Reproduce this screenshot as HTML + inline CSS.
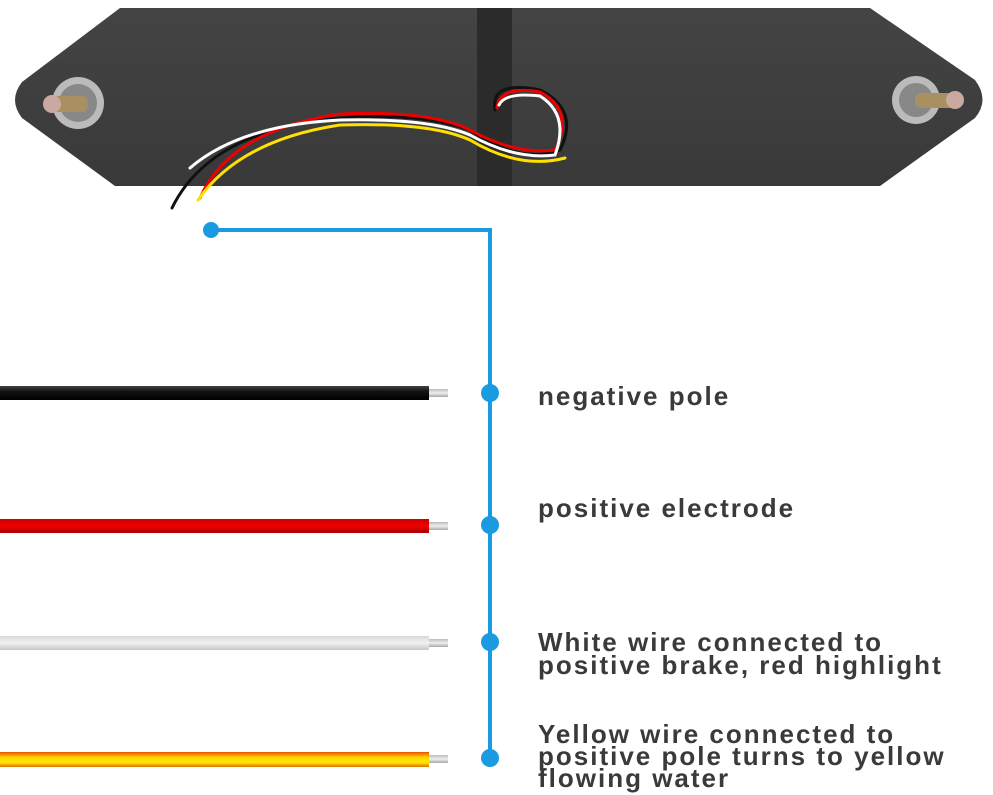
<!DOCTYPE html>
<html><head><style>
html,body{margin:0;padding:0;background:#fff;}
svg{display:block;}
text{font-family:"Liberation Sans",Arial,sans-serif;font-weight:bold;fill:#3a3a3a;font-size:26px;letter-spacing:2px;}
</style></head><body>
<svg width="993" height="795" viewBox="0 0 993 795" xmlns="http://www.w3.org/2000/svg">
<defs>
<linearGradient id="pan" x1="0" y1="0" x2="0" y2="1"><stop offset="0" stop-color="#444"/><stop offset="1" stop-color="#393939"/></linearGradient>
<linearGradient id="bw" x1="0" y1="0" x2="0" y2="1"><stop offset="0" stop-color="#444"/><stop offset=".4" stop-color="#111"/><stop offset="1" stop-color="#000"/></linearGradient>
<linearGradient id="rw" x1="0" y1="0" x2="0" y2="1"><stop offset="0" stop-color="#c00"/><stop offset=".5" stop-color="#e00"/><stop offset="1" stop-color="#a00"/></linearGradient>
<linearGradient id="ww" x1="0" y1="0" x2="0" y2="1"><stop offset="0" stop-color="#d8d8d8"/><stop offset=".5" stop-color="#f2f2f2"/><stop offset="1" stop-color="#c8c8c8"/></linearGradient>
<linearGradient id="yw" x1="0" y1="0" x2="0" y2="1"><stop offset="0" stop-color="#e85000"/><stop offset=".35" stop-color="#ffd200"/><stop offset=".7" stop-color="#ffe800"/><stop offset="1" stop-color="#e07000"/></linearGradient>
<linearGradient id="tip" x1="0" y1="0" x2="0" y2="1"><stop offset="0" stop-color="#bbb"/><stop offset=".5" stop-color="#eee"/><stop offset="1" stop-color="#aaa"/></linearGradient>
</defs>
<path d="M120,8 L870,8 L975,80 Q990,100 975,118 L880,186 L115,186 L22,118 Q8,100 22,82 Z" fill="url(#pan)"/>
<rect x="477" y="8" width="35" height="178" fill="#2b2b2b"/>
<circle cx="78" cy="103" r="26" fill="#bbb"/><circle cx="78" cy="103" r="19" fill="#888"/>
<rect x="52" y="96" width="36" height="16" rx="6" fill="#a89060"/><circle cx="52" cy="104" r="9" fill="#c9a9a0"/>
<circle cx="916" cy="100" r="24" fill="#bbb"/><circle cx="916" cy="100" r="17" fill="#888"/>
<rect x="915" y="93" width="40" height="15" rx="6" fill="#a89060"/><circle cx="955" cy="100" r="9" fill="#c9a9a0"/>
<g fill="none" stroke-width="3" stroke-linecap="round">
<path d="M172,208 Q210,130 340,118 Q420,112 470,130 Q520,165 560,150 Q580,110 540,90 Q490,80 495,110" stroke="#111"/>
<path d="M200,198 Q230,130 340,114 Q430,110 470,130 Q515,155 555,150 Q575,110 540,92 Q500,85 497,108" stroke="#e00"/>
<path d="M190,168 Q240,125 340,120 Q430,118 470,135 Q515,160 555,155 Q570,115 540,96 Q505,92 499,105" stroke="#fff"/>
<path d="M198,200 Q240,140 340,125 Q430,122 470,140 Q520,170 565,158" stroke="#ffe000"/>
</g>
<g stroke="#1a9ae0" stroke-width="4" fill="none"><path d="M211,230 L490,230 L490,760"/></g>
<g fill="#1a9ae0"><circle cx="211" cy="230" r="8"/><circle cx="490" cy="393" r="9"/><circle cx="490" cy="525" r="9"/><circle cx="490" cy="642" r="9"/><circle cx="490" cy="758" r="9"/></g>
<rect x="0" y="386" width="429" height="14" fill="url(#bw)"/><rect x="429" y="389" width="19" height="8" fill="url(#tip)"/>
<rect x="0" y="519" width="429" height="14" fill="url(#rw)"/><rect x="429" y="522" width="19" height="8" fill="url(#tip)"/>
<rect x="0" y="636" width="429" height="14" fill="url(#ww)"/><rect x="429" y="639" width="19" height="8" fill="url(#tip)"/>
<rect x="0" y="752" width="429" height="15" fill="url(#yw)"/><rect x="429" y="755" width="19" height="8" fill="url(#tip)"/>
<text x="538" y="405">negative pole</text>
<text x="538" y="517">positive electrode</text>
<text x="538" y="651">White wire connected to</text>
<text x="538" y="674">positive brake, red highlight</text>
<text x="538" y="743">Yellow wire connected to</text>
<text x="538" y="765">positive pole turns to yellow</text>
<text x="538" y="787">flowing water</text>
</svg>
</body></html>
